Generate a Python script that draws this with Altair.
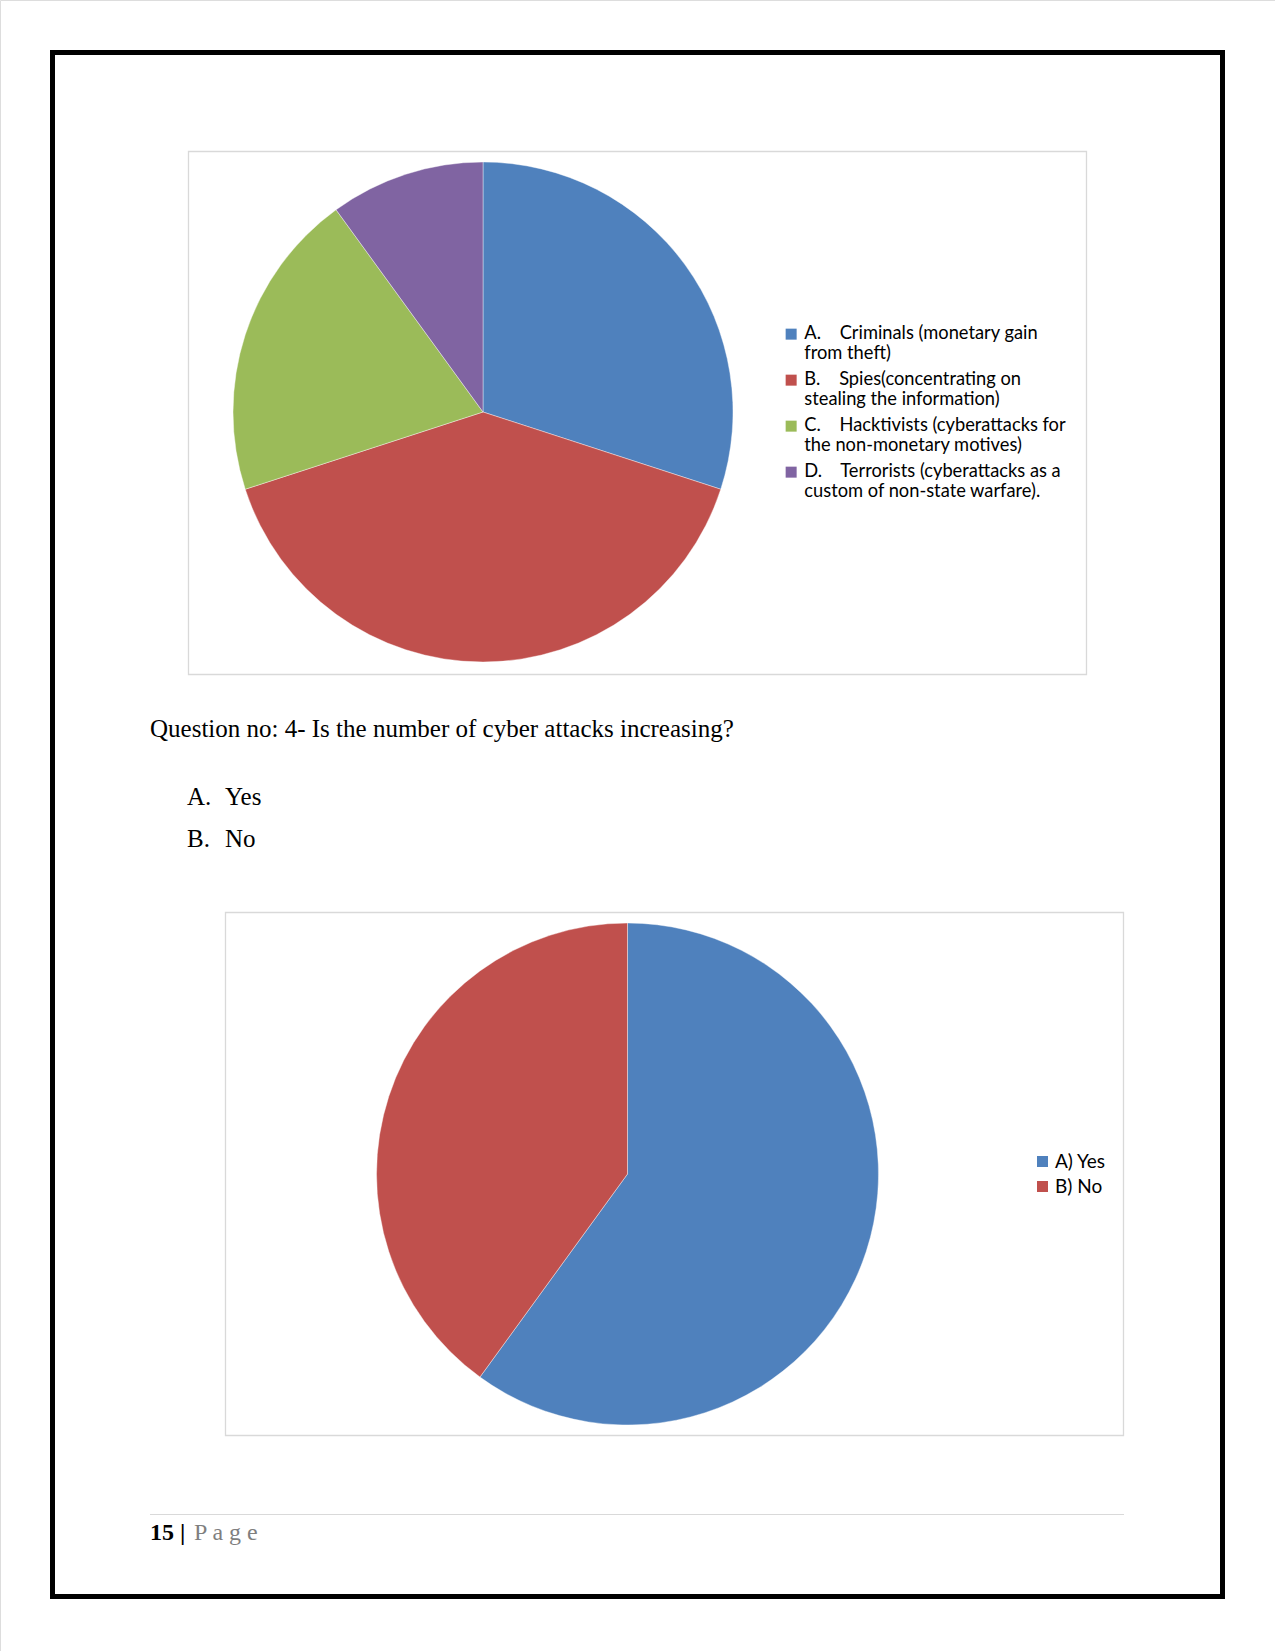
import altair as alt
import pandas as pd

# ---- data ----
pie1_labels = [
    "A.\u00a0\u00a0\u00a0\u00a0Criminals (monetary gain|from theft)",
    "B.\u00a0\u00a0\u00a0\u00a0Spies(concentrating on|stealing the information)",
    "C.\u00a0\u00a0\u00a0\u00a0Hacktivists (cyberattacks for|the non-monetary motives)",
    "D.\u00a0\u00a0\u00a0\u00a0Terrorists (cyberattacks as a|custom of non-state warfare).",
]
pie1_values = [30, 40, 20, 10]
pie1_colors = ["#4F81BD", "#C0504D", "#9BBB59", "#8064A2"]

pie2_labels = ["A) Yes", "B) No"]
pie2_values = [60, 40]
pie2_colors = ["#4F81BD", "#C0504D"]

question = "Question no: 4- Is the number of cyber attacks increasing?"
options = ["A.", "B."]
option_texts = ["Yes", "No"]
page_num = "15"
page_word = "P a g e"

df1 = pd.DataFrame({"label": pie1_labels, "value": pie1_values, "idx": range(4)})
df2 = pd.DataFrame({"label": pie2_labels, "value": pie2_values, "idx": range(2)})
one = pd.DataFrame({"k": [0]})

W, H = 1275, 1651


def box(x1, y1, x2, y2, color, sw):
    return alt.Chart(one).mark_rect(fill=None, stroke=color, strokeWidth=sw).encode(
        x=alt.value(x1), x2=alt.value(x2), y=alt.value(y1), y2=alt.value(y2)
    )


def txt(s, x, y, size, font="Liberation Serif", weight="normal", color="#000000"):
    return alt.Chart(pd.DataFrame({"t": [s]})).mark_text(
        align="left", baseline="alphabetic", font=font, fontSize=size,
        fontWeight=weight, color=color
    ).encode(x=alt.value(x), y=alt.value(y), text="t:N")


border = box(52.5, 52.5, 1222.5, 1596.5, "#000000", 5)
box1 = box(188.5, 151.5, 1086.5, 674.5, "#D9D9D9", 1.3)
box2 = box(225.5, 912.5, 1123.5, 1435.5, "#D9D9D9", 1.3)

legend_common = dict(
    orient="none", title=None, symbolType="square", symbolSize=121,
    symbolStrokeWidth=0, labelFont="Lato", labelColor="#000000",
    labelLimit=400, padding=0,
)

pie1 = alt.Chart(df1).mark_arc(outerRadius=250, stroke="#ffffff", strokeWidth=0.4).encode(
    x=alt.value(483), y=alt.value(412),
    theta=alt.Theta("value:Q", stack=True),
    order=alt.Order("idx:Q"),
    color=alt.Color(
        "label:N",
        scale=alt.Scale(domain=pie1_labels, range=pie1_colors),
        legend=alt.Legend(legendX=782, legendY=325, rowPadding=7, labelFontSize=18.3,
                          labelOffset=4,
                          labelExpr="split(datum.label, '|')", **legend_common),
    ),
)

pie2 = alt.Chart(df2).mark_arc(outerRadius=251, stroke="#ffffff", strokeWidth=0.4).encode(
    x=alt.value(627.5), y=alt.value(1174),
    theta=alt.Theta("value:Q", stack=True),
    order=alt.Order("idx:Q"),
    color=alt.Color(
        "label:N",
        scale=alt.Scale(domain=pie2_labels, range=pie2_colors),
        legend=alt.Legend(legendX=1033, legendY=1152, rowPadding=5, labelFontSize=19,
                          labelOffset=3, **legend_common),
    ),
)

texts = [
    txt(question, 150, 737, 25),
    txt(options[0], 187, 805, 25),
    txt(option_texts[0], 225, 805, 25),
    txt(options[1], 187, 847, 25),
    txt(option_texts[1], 225, 847, 25),
    txt(page_num, 150, 1540, 24, weight="bold"),
    txt("|", 180, 1540, 24, weight="bold"),
    txt(page_word, 194, 1540, 24, color="#7F7F7F"),
]

footer_line = alt.Chart(one).mark_rule(color="#D9D9D9", strokeWidth=1).encode(
    x=alt.value(150), x2=alt.value(1124), y=alt.value(1514.5)
)

chart = alt.layer(border, box1, box2, pie1, pie2, footer_line, *texts).resolve_scale(
    theta="independent", color="independent"
).properties(
    width=W, height=H, padding=0, autosize=alt.AutoSizeParams(type="none")
).configure_view(stroke=None).configure(background="#ffffff")

chart.save("out.html", embed_options={"renderer": "svg", "actions": False})
